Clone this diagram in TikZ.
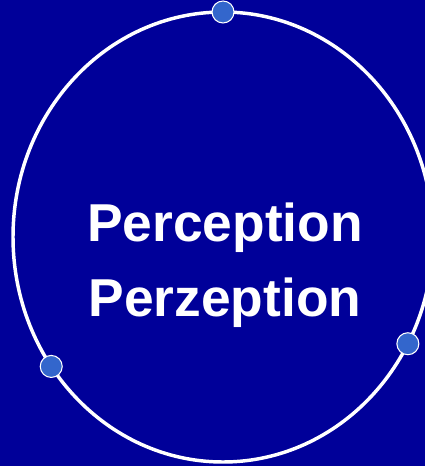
\documentclass[tikz,border=0pt]{standalone}
\usepackage{fontspec}
\setmainfont{Liberation Sans}
\usetikzlibrary{shapes.geometric}
\definecolor{bgblue}{RGB}{0,0,153}
\definecolor{dotblue}{RGB}{51,102,204}

\begin{document}
\begin{tikzpicture}[x=0.75pt,y=-0.75pt,
    dot/.style={circle,fill=dotblue,draw=white,line width=0.8pt,minimum size=16.5pt,inner sep=0pt},
    word/.style={anchor=base,text=white,font=\fontsize{40}{48}\selectfont\bfseries}]
    % background
    \fill[bgblue] (0,0) rectangle (425,466);
    \useasboundingbox (0,0) rectangle (425,466);
    % ring
    \node[ellipse,draw=white,line width=2.6pt,minimum width=315pt,minimum height=337.5pt,inner sep=0pt,outer sep=0pt] (ring) at (223,237) {};
    % words
    \node[word] (perc) at (225,241) {Perception};
    \node[word] (perz) at (225,316) {Perzeption};
    % dots on the ring
    \node[dot] (top) at (ring.90) {};
    \node[dot] (left) at (ring.217) {};
    \node[dot] (right) at (ring.330) {};
\end{tikzpicture}
\end{document}
